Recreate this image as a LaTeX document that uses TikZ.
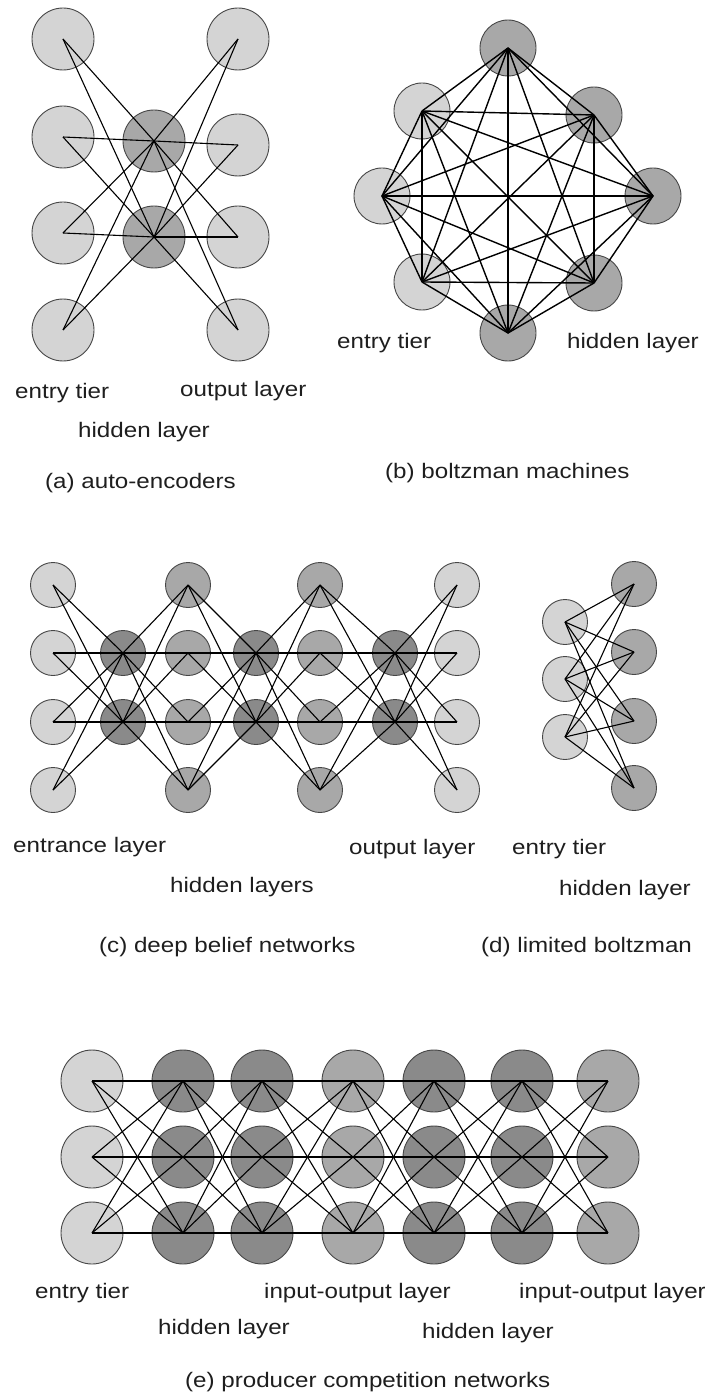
\documentclass[tikz,border=0pt]{standalone}
\usepackage{fontspec}
\setmainfont{Liberation Sans}[FakeStretch=1.15]
\usepackage{tikz}
\usetikzlibrary{positioning, calc}
\definecolor{entrygray}{RGB}{212,212,212}
\definecolor{hiddengray}{RGB}{168,168,168}
\definecolor{deepgray}{RGB}{138,138,138}
\definecolor{rimgray}{RGB}{70,70,70}
\definecolor{textgray}{RGB}{30,30,30}
\tikzset{
  neuron/.style={circle, draw=rimgray, line width=0.9pt, inner sep=0pt},
  link/.style={line width=1.1pt, black},
  lbl/.style={font=\fontsize{21}{24}\selectfont, text=textgray, inner sep=0pt, anchor=west}
}

\begin{document}
\begin{tikzpicture}[x=1pt, y=-1pt]
    \useasboundingbox (0,0) rectangle (704,1396);

    % === (a) AUTO-ENCODERS ===
    \foreach \y [count=\i] in {39,137,233,330}
        \node[neuron, fill=entrygray, minimum size=62pt] (ae-in\i) at (63,\y) {};
    \foreach \y [count=\i] in {39,145,237,330}
        \node[neuron, fill=entrygray, minimum size=62pt] (ae-out\i) at (238,\y) {};
    \node[neuron, fill=hiddengray, minimum size=62pt] (ae-h1) at (154,141) {};
    \node[neuron, fill=hiddengray, minimum size=62pt] (ae-h2) at (154,237) {};

    \foreach \i in {1,...,4}
        \foreach \j in {1,2} {
            \draw[link] (ae-in\i.center) -- (ae-h\j.center);
            \draw[link] (ae-h\j.center) -- (ae-out\i.center);
        }

    \node[lbl] (ae-entry) at (15,393) {entry tier};
    \node[lbl] (ae-output) at (180,391) {output layer};
    \node[lbl] (ae-hidden) at (78,432) {hidden layer};
    \node[lbl] (ae-title) at (45,483) {(a) auto-encoders};

    % === (b) BOLTZMAN MACHINES ===
    \node[neuron, fill=hiddengray, minimum size=56pt] (bm-1) at (508,48) {};
    \node[neuron, fill=hiddengray, minimum size=56pt] (bm-2) at (594,115) {};
    \node[neuron, fill=hiddengray, minimum size=56pt] (bm-3) at (653,196) {};
    \node[neuron, fill=hiddengray, minimum size=56pt] (bm-4) at (594,283) {};
    \node[neuron, fill=hiddengray, minimum size=56pt] (bm-5) at (508,333) {};
    \node[neuron, fill=entrygray, minimum size=56pt] (bm-6) at (422,282) {};
    \node[neuron, fill=entrygray, minimum size=56pt] (bm-7) at (382,196) {};
    \node[neuron, fill=entrygray, minimum size=56pt] (bm-8) at (422,111) {};

    % every unit linked to every other one
    \foreach \i [evaluate=\i as \k using int(\i+1)] in {1,...,7}
        \foreach \j in {\k,...,8}
            \draw[link, line width=1.4pt] (bm-\i.center) -- (bm-\j.center);

    \node[lbl] (bm-entry) at (337,343) {entry tier};
    \node[lbl] (bm-hidden) at (567,343) {hidden layer};
    \node[lbl] (bm-title) at (385,473) {(b) boltzman machines};

    % === (c) DEEP BELIEF NETWORKS ===
    \foreach \c/\x/\col in {0/53/entrygray, 2/188/hiddengray, 4/320/hiddengray, 6/457/entrygray}
        \foreach \y [count=\r] in {585,653,722,790}
            \node[neuron, fill=\col, minimum size=45pt] (db-\c-\r) at (\x,\y) {};
    \foreach \c/\x in {1/123, 3/256, 5/395}
        \foreach \y [count=\r] in {653,722}
            \node[neuron, fill=deepgray, minimum size=45pt] (db-\c-\r) at (\x,\y) {};

    \foreach \c [evaluate=\c as \p using int(\c-1), evaluate=\c as \n using int(\c+1)] in {1,3,5}
        \foreach \r in {1,2}
            \foreach \s in {1,...,4} {
                \draw[link] (db-\p-\s.center) -- (db-\c-\r.center);
                \draw[link] (db-\c-\r.center) -- (db-\n-\s.center);
            }

    \node[lbl] (db-entrance) at (13,847) {entrance layer};
    \node[lbl] (db-output) at (349,849) {output layer};
    \node[lbl] (db-hidden) at (170,887) {hidden layers};
    \node[lbl] (db-title) at (99,947) {(c) deep belief networks};

    % === (d) LIMITED BOLTZMAN ===
    \foreach \y [count=\i] in {622,679,737}
        \node[neuron, fill=entrygray, minimum size=45pt] (rb-v\i) at (565,\y) {};
    \foreach \y [count=\i] in {584,652,721,788}
        \node[neuron, fill=hiddengray, minimum size=45pt] (rb-h\i) at (634,\y) {};

    \foreach \i in {1,2,3}
        \foreach \j in {1,...,4}
            \draw[link] (rb-v\i.center) -- (rb-h\j.center);

    \node[lbl] (rb-entry) at (512,849) {entry tier};
    \node[lbl] (rb-hidden) at (559,890) {hidden layer};
    \node[lbl] (rb-title) at (481,947) {(d) limited boltzman};

    % === (e) PRODUCER COMPETITION NETWORKS ===
    \foreach \x/\col [count=\c] in {92/entrygray, 183/deepgray, 262/deepgray, 353/hiddengray,
                                    434/deepgray, 522/deepgray, 608/hiddengray}
        \foreach \y [count=\r] in {1081,1157,1233}
            \node[neuron, fill=\col, minimum size=62pt] (pc-\c-\r) at (\x,\y) {};

    \foreach \c [evaluate=\c as \n using int(\c+1)] in {1,...,6}
        \foreach \r in {1,2,3}
            \foreach \s in {1,2,3}
                \draw[link] (pc-\c-\r.center) -- (pc-\n-\s.center);

    \node[lbl] (pc-entry) at (35,1293) {entry tier};
    \node[lbl] (pc-io1) at (264,1293) {input-output layer};
    \node[lbl] (pc-io2) at (519,1293) {input-output layer};
    \node[lbl] (pc-hidden1) at (158,1329) {hidden layer};
    \node[lbl] (pc-hidden2) at (422,1333) {hidden layer};
    \node[lbl] (pc-title) at (185,1382) {(e) producer competition networks};

\end{tikzpicture}
\end{document}
